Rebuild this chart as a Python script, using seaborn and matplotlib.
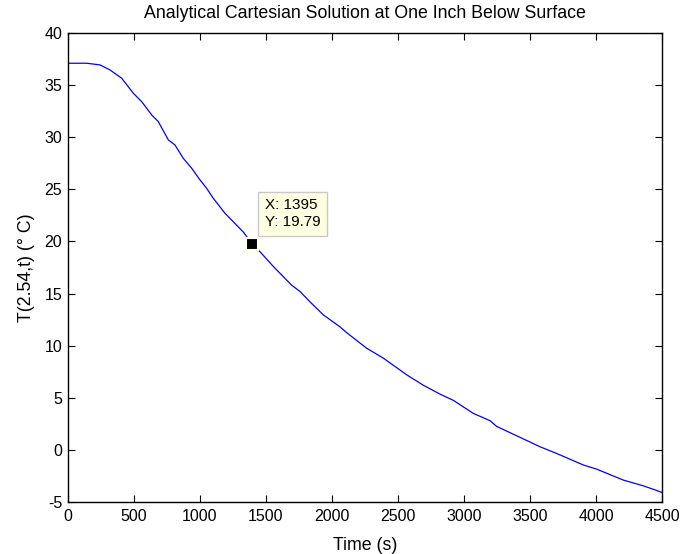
import matplotlib
matplotlib.use("Agg")
import matplotlib.pyplot as plt
import seaborn as sns
import pandas as pd

# ---- data ----
time_s = [0, 144, 245, 320, 409, 497, 560, 636, 686, 762, 812, 875, 939, 1002,
          1052, 1102, 1191, 1330, 1395, 1457, 1557, 1696, 1759, 1835, 1936, 2062,
          2112, 2264, 2390, 2567, 2693, 2819, 2920, 3071, 3198, 3248, 3400, 3576,
          3703, 3904, 4005, 4207, 4358, 4460, 4500]
temp_c = [37.1, 37.1, 36.94, 36.46, 35.66, 34.22, 33.42, 32.14, 31.5, 29.74, 29.26,
          27.98, 27.02, 25.9, 25.1, 24.15, 22.7, 20.9, 19.79, 19.0, 17.6, 15.8, 15.2,
          14.2, 12.95, 11.8, 11.25, 9.75, 8.8, 7.2, 6.2, 5.35, 4.75, 3.5, 2.8, 2.25,
          1.35, 0.3, -0.35, -1.45, -1.85, -2.9, -3.45, -3.9, -4.1]
tip_x = 1395
tip_y = 19.79
x_ticks = [0, 500, 1000, 1500, 2000, 2500, 3000, 3500, 4000, 4500]
y_ticks = [-5, 0, 5, 10, 15, 20, 25, 30, 35, 40]

title = "Analytical Cartesian Solution at One Inch Below Surface"
xlabel = "Time (s)"
ylabel = "T(2.54,t) (\u00b0 C)"

df = pd.DataFrame({"t": time_s, "T": temp_c})

sns.set_style("ticks")
plt.rcParams["font.family"] = ["Liberation Sans", "DejaVu Sans"]
plt.rcParams["xtick.direction"] = "in"
plt.rcParams["ytick.direction"] = "in"
plt.rcParams["text.color"] = "black"
plt.rcParams["axes.labelcolor"] = "black"

fig = plt.figure(figsize=(6.85, 5.54), dpi=100)
ax = fig.add_axes([0.0988, 0.0939, 0.8677, 0.8465])

sns.lineplot(data=df, x="t", y="T", ax=ax, color="#0000FF", linewidth=0.9,
             estimator=None, sort=False)

ax.set_xlim(0, 4500)
ax.set_ylim(-5, 40)
ax.set_xticks(x_ticks)
ax.set_yticks(y_ticks)
ax.set_xticklabels([str(v) for v in x_ticks])
ax.set_yticklabels([str(v) for v in y_ticks])

for s in ax.spines.values():
    s.set_visible(True)
    s.set_color("black")
    s.set_linewidth(1.0)

ax.tick_params(axis="both", which="both", direction="in", length=5, width=0.8,
               top=True, right=True, labelsize=11.5, colors="black",
               labelcolor="black")
ax.tick_params(axis="x", pad=5)
ax.tick_params(axis="y", pad=4)

ax.set_title(title, fontsize=12.8, pad=10.5, color="black")
ax.set_xlabel(xlabel, fontsize=12.8, labelpad=9.5, color="black")
ax.set_ylabel(ylabel, fontsize=12.8, labelpad=7, color="black")

# data tip
ax.plot([tip_x], [tip_y], marker="s", markersize=8, markerfacecolor="black",
        markeredgecolor="#FFFFE1", markeredgewidth=1.5, linestyle="none", zorder=5)
ax.annotate(f"X: {tip_x}\nY: {tip_y}", xy=(tip_x, tip_y), xytext=(13, 15),
            textcoords="offset pixels", ha="left", va="bottom", fontsize=11,
            color="black",
            bbox=dict(boxstyle="square,pad=0.45", facecolor="#FFFFE1",
                      edgecolor="#C8C8C8", linewidth=1.0), zorder=6)

fig.savefig("out.png", dpi=100)
